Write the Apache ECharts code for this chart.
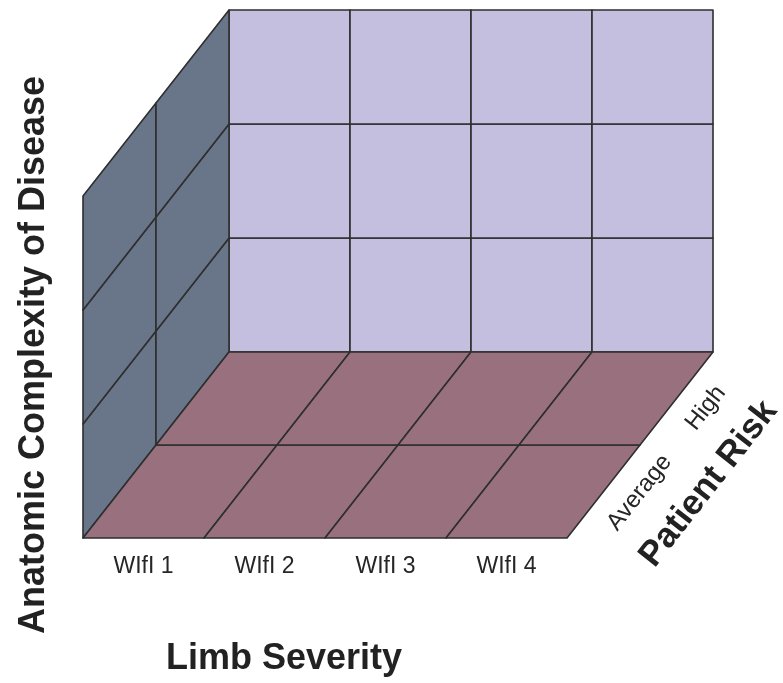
<!DOCTYPE html>
<html>
<head>
<meta charset="utf-8">
<script src="https://cdn.jsdelivr.net/npm/echarts@6/dist/echarts.min.js"></script>
<style>html,body{margin:0;padding:0;background:#fff}#main{width:783px;height:683px}</style>
</head>
<body>
<div id="main"></div>
<script>
// ---- data ----
var limbCategories = ['WIfI 1', 'WIfI 2', 'WIfI 3', 'WIfI 4'];
var riskCategories = ['Average', 'High'];
var complexityLevels = ['Level 1', 'Level 2', 'Level 3'];
var axisTitles = ['Limb Severity', 'Anatomic Complexity of Disease', 'Patient Risk'];
var riskLabelPos = [0.68, 1.59];

// oblique projection: one depth step moves this many x-units / y-units
var DX = 73 / 121, DY = 93 / 114;
var nI = limbCategories.length, nK = riskCategories.length, nJ = complexityLevels.length;

// build cells: [face, a, b]
var cells = [];
for (var i = 0; i < nI; i++) for (var j = 0; j < nJ; j++) cells.push(['back', i, j]);
for (var k = 0; k < nK; k++) for (var j2 = 0; j2 < nJ; j2++) cells.push(['left', k, j2]);
for (var i2 = 0; i2 < nI; i2++) for (var k2 = 0; k2 < nK; k2++) cells.push(['floor', i2, k2]);

var colors = { back: '#c4bfdf', left: '#697689', floor: '#98707e' };

function proj(api, i, j, k) {
  return api.coord([i + k * DX, j + k * DY]);
}

var ANG = Math.atan2(93, 73);

var option = {
  animation: false,
  grid: { left: 83, right: 70, top: 10, bottom: 145 },
  xAxis: { type: 'value', min: 0, max: nI + nK * DX, show: false },
  yAxis: { type: 'value', min: 0, max: nJ + nK * DY, show: false },
  series: [
    {
      type: 'custom',
      coordinateSystem: 'cartesian2d',
      data: cells,
      encode: { x: 1, y: 2 },
      renderItem: function (params, api) {
        var face = api.value(0), a = api.value(1), b = api.value(2);
        var pts;
        if (face === 'back') {
          pts = [proj(api, a, b, nK), proj(api, a + 1, b, nK), proj(api, a + 1, b + 1, nK), proj(api, a, b + 1, nK)];
        } else if (face === 'left') {
          pts = [proj(api, 0, b, a), proj(api, 0, b, a + 1), proj(api, 0, b + 1, a + 1), proj(api, 0, b + 1, a)];
        } else {
          pts = [proj(api, a, 0, b), proj(api, a + 1, 0, b), proj(api, a + 1, 0, b + 1), proj(api, a, 0, b + 1)];
        }
        return {
          type: 'polygon',
          shape: { points: pts },
          style: { fill: colors[face], stroke: '#2e2e2e', lineWidth: 1.6, lineJoin: 'round' }
        };
      }
    },
    {
      type: 'custom',
      coordinateSystem: 'cartesian2d',
      data: limbCategories.map(function (c, idx) { return [idx, 0, c]; }),
      renderItem: function (params, api) {
        var idx = api.value(0);
        var p = proj(api, idx + 0.5, 0, 0);
        return {
          type: 'text', x: p[0], y: p[1] + 29,
          style: { text: limbCategories[idx], fill: '#262626', font: '23px "Liberation Sans", Arial, sans-serif', textAlign: 'center', textVerticalAlign: 'middle' }
        };
      }
    },
    {
      type: 'custom',
      coordinateSystem: 'cartesian2d',
      data: riskCategories.map(function (c, idx) { return [idx, 0, c]; }),
      renderItem: function (params, api) {
        var idx = api.value(0);
        var p = proj(api, nI, 0, riskLabelPos[idx]);
        var ux = Math.sin(ANG), uy = Math.cos(ANG); // outward normal
        return {
          type: 'text', x: p[0] + ux * 29, y: p[1] + uy * 29, rotation: ANG,
          style: { text: riskCategories[idx], fill: '#262626', font: '24px "Liberation Sans", Arial, sans-serif', textAlign: 'center', textVerticalAlign: 'middle' }
        };
      }
    },
    {
      type: 'custom',
      coordinateSystem: 'cartesian2d',
      data: [[0, 0]],
      renderItem: function (params, api) {
        var p = proj(api, nI, 0, 1.1);
        var ux = Math.sin(ANG), uy = Math.cos(ANG);
        var f = 'bold 36px "Liberation Sans", Arial, sans-serif';
        return {
          type: 'group',
          children: [
            { type: 'text', x: p[0] + ux * 78, y: p[1] + uy * 78, rotation: ANG,
              style: { text: axisTitles[2], fill: '#222', font: 'bold 35px "Liberation Sans", Arial, sans-serif', textAlign: 'center', textVerticalAlign: 'middle' } },
            { type: 'text', x: 284, y: 659,
              style: { text: axisTitles[0], fill: '#222', font: f, textAlign: 'center', textVerticalAlign: 'middle' } },
            { type: 'text', x: 34, y: 355, rotation: Math.PI / 2,
              style: { text: axisTitles[1], fill: '#222', font: f, textAlign: 'center', textVerticalAlign: 'middle' } }
          ]
        };
      }
    }
  ]
};

var chart = echarts.init(document.getElementById('main'), null, { renderer: 'canvas' });
chart.setOption(option);
</script>
</body>
</html>
